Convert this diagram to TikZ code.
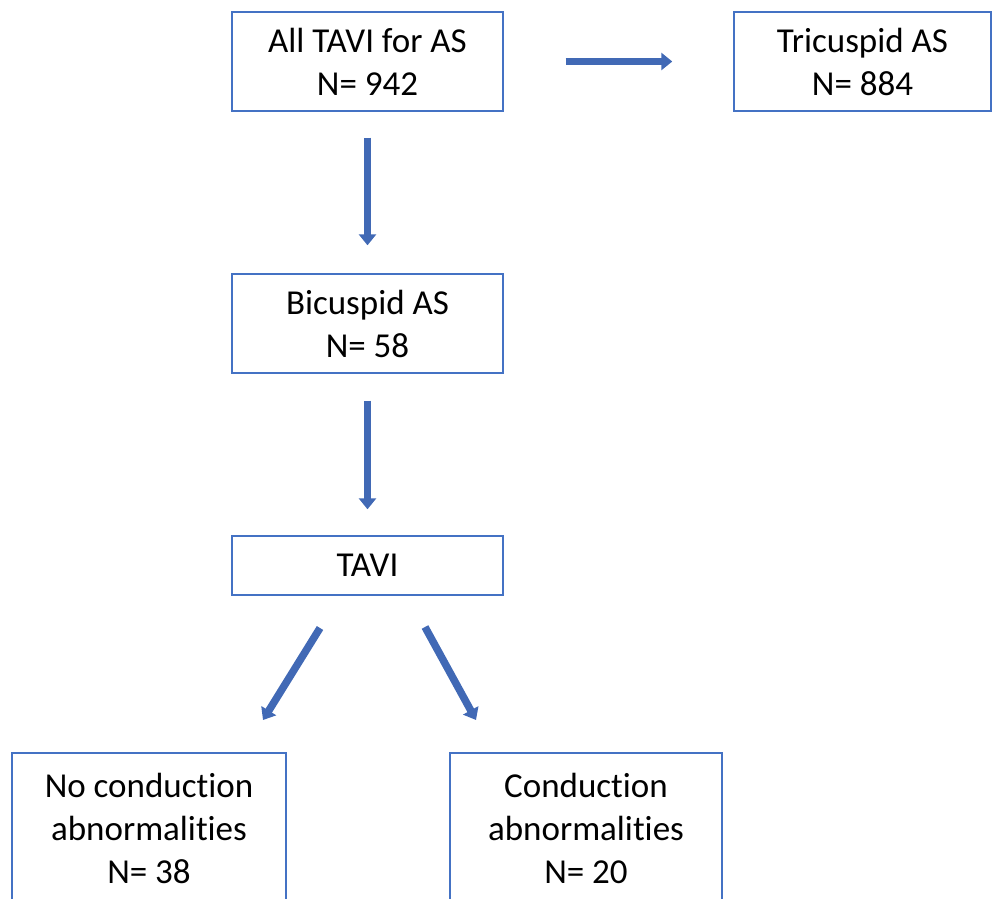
\documentclass[tikz,border=0pt]{standalone}
\usepackage{fontspec}
\setmainfont[Ligatures=NoCommon]{Carlito}
\usetikzlibrary{arrows.meta}
\definecolor{boxblue}{HTML}{4472C4}
\definecolor{arrowfill}{HTML}{4169B5}
\tikzset{
  box/.style={draw=boxblue, line width=1.4pt, fill=white, rectangle, align=center,
    inner sep=0pt, font=\fontsize{35}{43}\selectfont},
  blockarrow/.style={line width=7.5pt, draw=arrowfill,
    -{Triangle[width=17pt,length=11pt]}},
}
\begin{document}
\begin{tikzpicture}[x=1pt,y=-1pt]
\useasboundingbox (0,0) rectangle (997,898);
\clip (0,0) rectangle (997,898);
\node[box, minimum width=271pt, minimum height=99pt] (all) at (367.5,61.5) {All TAVI for AS\\N= 942};
\node[box, minimum width=257pt, minimum height=99pt] (tri) at (862.5,61.5) {Tricuspid AS\\N= 884};
\node[box, minimum width=271pt, minimum height=99pt] (bic) at (367.5,323.5) {Bicuspid AS\\N= 58};
\node[box, minimum width=271pt, minimum height=59pt] (tavi) at (367.5,565.5) {TAVI};
\node[box, minimum width=274pt, minimum height=150pt] (noc) at (149,828) {No conduction\\abnormalities\\N= 38};
\node[box, minimum width=272pt, minimum height=150pt] (con) at (586,828) {Conduction\\abnormalities\\N= 20};
\draw[blockarrow, shorten <=62pt, shorten >=61pt] (all.east) -- (tri.west);
\draw[blockarrow, shorten <=26pt, shorten >=28pt] (all.south) -- (bic.north);
\draw[blockarrow, shorten <=27pt, shorten >=26pt] (bic.south) -- (tavi.north);
\coordinate (l1) at (320,628);
\coordinate (l2) at (263,720);
\coordinate (r1) at (425,627);
\coordinate (r2) at (476,720);
\draw[blockarrow] (l1) -- (l2);
\draw[blockarrow] (r1) -- (r2);
\end{tikzpicture}
\end{document}
